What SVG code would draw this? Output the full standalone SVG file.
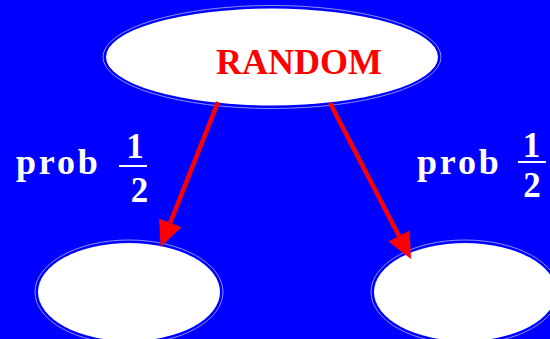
<svg xmlns="http://www.w3.org/2000/svg" width="550" height="339" viewBox="0 0 550 339">
  <style>
    .node-fill { fill: #ffffff; stroke: none; }
    .node-ring { fill: none; stroke: #8c8cff; stroke-width: 1; }
    .label { font-family: "Liberation Serif", "Times New Roman", serif; font-weight: bold; }
    .title { fill: #ff0000; font-size: 36px; }
    .prob { fill: #ffffff; font-size: 36px; letter-spacing: 2.8px; }
    .digit { fill: #ffffff; font-size: 35px; text-anchor: middle; }
    .bar { stroke: #ffffff; stroke-width: 2; }
    .edge { stroke: #ff0000; stroke-width: 4.5; fill: none; marker-end: url(#head); }
  </style>
  <defs>
    <marker id="head" viewBox="0 0 26 24" refX="0" refY="12" markerWidth="26" markerHeight="24" markerUnits="userSpaceOnUse" orient="auto">
      <path d="M0,0 L26,12 L0,24 Z" fill="#ff0000"/>
    </marker>
  </defs>

  <rect x="0" y="0" width="550" height="339" fill="#0000ff"/>

  <g id="random">
    <ellipse class="node-ring" cx="272" cy="57" rx="169" ry="51.5"/>
    <ellipse class="node-fill" cx="272" cy="57" rx="166" ry="48.5"/>
    <text class="label title" x="216" y="74">RANDOM</text>
  </g>

  <g id="left-child">
    <ellipse class="node-ring" cx="129" cy="292" rx="94" ry="52"/>
    <ellipse class="node-fill" cx="129" cy="292" rx="91" ry="49"/>
  </g>

  <g id="right-child">
    <ellipse class="node-ring" cx="465" cy="292" rx="94" ry="52"/>
    <ellipse class="node-fill" cx="465" cy="292" rx="91" ry="49"/>
  </g>

  <g id="left-label">
    <text class="label prob" x="16" y="174">prob</text>
    <text class="label digit" x="135" y="158">1</text>
    <line class="bar" x1="119" y1="166" x2="147" y2="166"/>
    <text class="label digit" x="139.5" y="202">2</text>
  </g>

  <g id="right-label">
    <text class="label prob" x="417" y="174">prob</text>
    <text class="label digit" x="531.5" y="157">1</text>
    <line class="bar" x1="518" y1="162" x2="546" y2="162"/>
    <text class="label digit" x="532" y="197">2</text>
  </g>

  <g id="connectors">
    <line class="edge" x1="218" y1="102" x2="170.2" y2="222.8"/>
    <line class="edge" x1="330" y1="103" x2="399" y2="236"/>
  </g>
</svg>
